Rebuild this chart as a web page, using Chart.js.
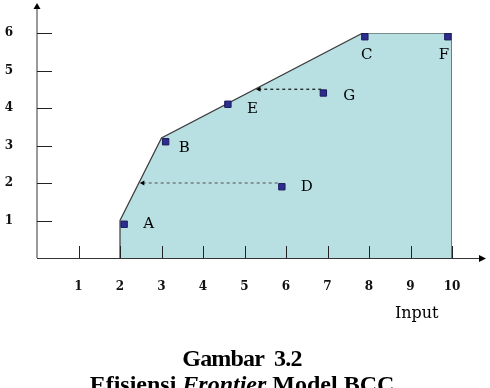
<!DOCTYPE html>
<html>
<head>
<meta charset="utf-8">
<script src="https://cdn.jsdelivr.net/npm/chart.js@4.4.0/dist/chart.umd.min.js"></script>
<style>
body { margin: 0; background: #fff; }
#wrap { position: relative; width: 490px; height: 388px; overflow: hidden; }
.caption { position: absolute; left: 0; width: 484px; text-align: center; font-family: 'Liberation Serif', serif; font-weight: bold; font-size: 24px; line-height: 26px; color: #000; white-space: pre; }
</style>
</head>
<body>
<div id="wrap">
  <canvas id="chart" width="490" height="388"></canvas>
  <div class="caption" style="top:345px; letter-spacing:-0.8px">Gambar  3.2</div>
  <div class="caption" style="top:371px">Efisiensi <i>Frontier</i> Model BCC</div>
</div>
<script>
'use strict'
// titik DMU (input, output)
const dmuNames = ['A', 'B', 'C', 'D', 'E', 'F', 'G']
const dmuInput = [2.1, 3.1, 7.9, 5.9, 4.6, 9.9, 6.9]
const dmuOutput = [0.9, 3.1, 5.9, 1.9, 4.1, 5.9, 4.4]
// garis frontier BCC
const frontierInput = [2, 2, 3, 7.85, 10, 10]
const frontierOutput = [0, 1, 3.2, 6, 6, 0]
// proyeksi D dan G ke frontier
const projDInput = [5.8, 2.55]
const projDOutput = [2, 2]
const projGInput = [6.85, 5.35]
const projGOutput = [4.5, 4.5]
// label sumbu
const xTickLabels = ['1', '2', '3', '4', '5', '6', '7', '8', '9', '10']
const yTickLabels = ['1', '2', '3', '4', '5', '6']
const xTitle = 'Input'

// geser label huruf (px) -- cuma buat gaya
const labelShift = [[19, 0], [13, 6], [2, 18], [19, 0], [19, 5], [-4, 18], [20, 3]]

const toPoints = (xs, ys) => xs.map((v, i) => ({ x: v, y: ys[i] }))
const serif = "'DejaVu Serif', serif"

// gambar sumbu, panah, tick dan label huruf
const axisArrows = {
    id: 'axisArrows',
    afterDatasetsDraw(chart) {
        const { ctx, scales: { x, y } } = chart
        const x0 = x.getPixelForValue(0)
        const y0 = y.getPixelForValue(0)
        ctx.save()
        // sumbu y (abu-abu)
        ctx.strokeStyle = '#9a9a9a'
        ctx.lineWidth = 2
        ctx.beginPath()
        ctx.moveTo(x0, y0)
        ctx.lineTo(x0, 8)
        ctx.stroke()
        ctx.fillStyle = '#000'
        ctx.beginPath()
        ctx.moveTo(x0, 3)
        ctx.lineTo(x0 - 3.5, 9)
        ctx.lineTo(x0 + 3.5, 9)
        ctx.closePath()
        ctx.fill()
        // sumbu x
        ctx.strokeStyle = '#333'
        ctx.lineWidth = 1
        ctx.beginPath()
        ctx.moveTo(x0, y0 + 0.5)
        ctx.lineTo(x.right + 29, y0 + 0.5)
        ctx.stroke()
        ctx.beginPath()
        ctx.moveTo(x.right + 34, y0 + 0.5)
        ctx.lineTo(x.right + 27, y0 - 3)
        ctx.lineTo(x.right + 27, y0 + 4)
        ctx.closePath()
        ctx.fill()
        // tick ke dalam
        ctx.strokeStyle = '#222'
        xTickLabels.forEach(t => {
            const px = Math.round(x.getPixelForValue(Number(t))) + 0.5
            ctx.beginPath()
            ctx.moveTo(px, y0)
            ctx.lineTo(px, y0 - 12)
            ctx.stroke()
        })
        yTickLabels.forEach(t => {
            const py = Math.round(y.getPixelForValue(Number(t))) + 0.5
            ctx.beginPath()
            ctx.moveTo(x0, py)
            ctx.lineTo(x0 + 15, py)
            ctx.stroke()
        })
        // label huruf
        ctx.fillStyle = '#000'
        ctx.font = '15px ' + serif
        ctx.textBaseline = 'middle'
        dmuNames.forEach((n, i) => {
            const px = x.getPixelForValue(dmuInput[i])
            const py = y.getPixelForValue(dmuOutput[i])
            const [dx, dy] = labelShift[i]
            ctx.textAlign = dy > 10 ? 'center' : 'left'
            ctx.fillText(n, px + dx, py + dy)
        })
        // judul sumbu x
        ctx.font = '16px ' + serif
        ctx.textAlign = 'center'
        ctx.fillText(xTitle, x.getPixelForValue(9.15), y0 + 56)
        ctx.restore()
    }
}

const ctx = document.getElementById('chart').getContext('2d')
const myChart = new Chart(ctx, {
    type: 'scatter',
    data: {
        datasets: [{
            type: 'line',
            data: toPoints(frontierInput, frontierOutput),
            borderColor: '#3a3a3a',
            borderWidth: 1.2,
            backgroundColor: '#b8dfe2',
            fill: 'origin',
            pointRadius: 0,
            tension: 0,
            order: 3
        }, {
            type: 'line',
            data: toPoints(projDInput, projDOutput),
            borderColor: '#666',
            borderWidth: 1.2,
            borderDash: [3, 3],
            pointStyle: 'triangle',
            pointRotation: -90,
            pointRadius: [0, 3],
            pointBackgroundColor: '#000',
            pointBorderWidth: 0,
            fill: false,
            order: 2
        }, {
            type: 'line',
            data: toPoints(projGInput, projGOutput),
            borderColor: '#111',
            borderWidth: 1.2,
            borderDash: [3, 3],
            pointStyle: 'triangle',
            pointRotation: -90,
            pointRadius: [0, 3],
            pointBackgroundColor: '#000',
            pointBorderWidth: 0,
            fill: false,
            order: 2
        }, {
            data: toPoints(dmuInput, dmuOutput),
            pointStyle: 'rect',
            pointRadius: 4.5,
            backgroundColor: '#2d2d8f',
            borderColor: '#1b1b5a',
            borderWidth: 1,
            order: 1
        }]
    },
    options: {
        responsive: false,
        animation: false,
        layout: {
            padding: { top: 33, right: 38, bottom: 0, left: 0 }
        },
        plugins: {
            legend: { display: false },
            tooltip: { enabled: false }
        },
        scales: {
            x: {
                type: 'linear',
                min: 0,
                max: 10,
                grid: { display: false, drawTicks: false },
                border: { display: false },
                afterFit: s => { s.height = 130 },
                ticks: {
                    stepSize: 1,
                    padding: 22,
                    color: '#111',
                    font: { family: serif, size: 12, weight: 'bold' },
                    callback: v => xTickLabels.includes(String(v)) ? String(v) : ''
                }
            },
            y: {
                type: 'linear',
                min: 0,
                max: 6,
                grid: { display: false, drawTicks: false },
                border: { display: false },
                afterFit: s => { s.width = 37 },
                ticks: {
                    stepSize: 1,
                    padding: 24,
                    color: '#111',
                    font: { family: serif, size: 12, weight: 'bold' },
                    callback: v => yTickLabels.includes(String(v)) ? String(v) : ''
                }
            }
        }
    },
    plugins: [axisArrows]
})
</script>
</body>
</html>
